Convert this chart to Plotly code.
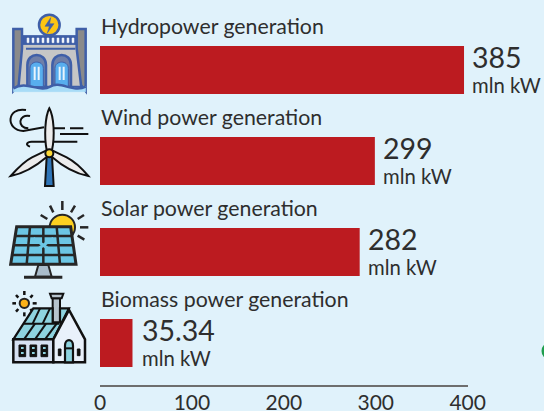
import re
import plotly.graph_objects as go

W, H = 544, 411

categories = ["Hydropower generation", "Wind power generation",
              "Solar power generation", "Biomass power generation"]
# Bar lengths as drawn in the picture (the first bar is drawn longer than its printed value)
bar_lengths = [396, 299, 282.5, 35.34]
value_labels = ["385", "299", "282", "35.34"]
unit_label = "mln kW"
tick_values = [0, 100, 200, 300, 400]

BG = "#e0f2fb"
RED = "#bc1b20"
INK = "#2e2e2e"
FONT = "Lato, 'Open Sans', sans-serif"

shapes = []


def conv(path, ox, oy, k):
    """Icon-local (zoomed crop) coordinates to paper fractions."""
    tokens = re.findall(r"[MLCQZ]|-?\d+\.?\d*", path)
    out, nums = [], []
    for t in tokens:
        if t in "MLCQZ":
            out.append(t)
        else:
            nums.append(float(t))
            if len(nums) == 2:
                out.append(f"{(nums[0] * k + ox) / W:.5f},{1 - (nums[1] * k + oy) / H:.5f}")
                nums = []
    return " ".join(out)


def icon(ox, oy):
    k = 1 / 3

    def p(path, fill=None, line="#111111", width=2.0):
        s = dict(type="path", path=conv(path, ox, oy, k), xref="paper", yref="paper", layer="above",
                 line=dict(color=line, width=width))
        if fill:
            s["fillcolor"] = fill
        shapes.append(s)

    def c(cx, cy, r, fill, line="#111111", width=2.0):
        shapes.append(dict(type="circle", xref="paper", yref="paper", layer="above",
                           x0=(cx - r) * k / W + ox / W, x1=(cx + r) * k / W + ox / W,
                           y0=1 - ((cy + r) * k + oy) / H, y1=1 - ((cy - r) * k + oy) / H,
                           fillcolor=fill, line=dict(color=line, width=width)))
    return p, c


# ---------- hydropower icon
p, c = icon(0, 5)
B = "#3f5fa8"
p("M 65 115 L 232 115 L 245 245 L 52 245 Z", "#c6c6c6", B, 2)
p("M 65 92 L 232 92 L 232 118 L 65 118 Z", "#3f5fa8", B, 1)
for x in [84, 99, 114, 129, 144, 159, 174, 189, 204, 219]:
    p(f"M {x-3} 99 L {x+3} 99 L {x+3} 113 L {x-3} 113 Z", "#f0f5fb", "#f0f5fb", 0.5)
p("M 78 131 L 226 131", None, B, 2)
p("M 40 72 L 66 72 L 66 130 L 56 240 L 40 258 Z", "#8a8a8a", B, 2.5)
p("M 230 72 L 257 72 L 257 258 L 243 240 L 230 130 Z", "#8a8a8a", B, 2.5)
for cx in [110, 185]:
    p(f"M {cx-28} 245 L {cx-28} 180 C {cx-28} 140 {cx+28} 140 {cx+28} 180 L {cx+28} 245 Z", "#6f7fa8", B, 2.5)
    p(f"M {cx-20} 245 L {cx-20} 190 C {cx-20} 165 {cx+20} 165 {cx+20} 190 L {cx+20} 245 Z", "#58aeee", B, 1)
    p(f"M {cx-6} 185 L {cx-6} 225 M {cx+6} 185 L {cx+6} 225", None, "#e8f4fc", 2)
p("M 40 250 C 80 225 120 265 150 245 C 180 225 220 265 257 245 L 257 260 L 40 260 Z", "#a8dcf7", "#a8dcf7", 0.5)
p("M 40 250 C 80 225 120 265 150 245 C 180 225 220 265 257 245", None, B, 2.5)
c(148, 60, 31, "#fdc513", B, 2.5)
p("M 152 38 L 135 64 L 148 64 L 142 84 L 162 56 L 149 56 Z", B, B, 0.5)

# ---------- wind icon
p, c = icon(0, 100)
p("M 78 30 C 20 20 15 90 70 93 L 132 82", None, "#111111", 2)
p("M 90 48 C 55 40 50 85 85 85", None, "#111111", 2)
p("M 160 85 L 195 85 M 210 85 L 250 85 M 180 102 L 265 102", None, "#111111", 2)
p("M 90 140 C 75 135 80 125 95 125 L 232 125", None, "#111111", 2)
p("M 140 170 L 156 170 L 161 258 L 135 258 Z", "#2f75b7", "#111111", 2)
p("M 148 25 C 135 50 132 110 140 150 L 156 150 C 165 110 162 50 148 25 Z", "#ececec", "#111111", 2)
p("M 158 152 L 200 172 C 225 185 250 210 265 228 C 235 222 195 205 155 170 Z", "#ececec", "#111111", 2)
p("M 138 152 L 96 172 C 70 185 48 210 32 228 C 62 222 100 205 141 170 Z", "#ececec", "#111111", 2)
c(148, 160, 12, "#fdd835", "#111111", 2)

# ---------- solar icon
p, c = icon(0, 195)
D = "#262626"
for seg in ["187 18 187 45", "150 32 160 52", "122 60 142 72", "225 32 213 52",
            "252 60 233 72", "240 97 265 97", "233 122 253 134"]:
    a = seg.split()
    p(f"M {a[0]} {a[1]} L {a[2]} {a[3]}", None, D, 2.5)
c(187, 97, 38, "#fdd020", D, 2)
p("M 115 210 L 145 210 L 155 245 L 105 245 Z", "#a9bccb", D, 2)
p("M 72 247 L 187 247", None, D, 3)
p("M 50 95 L 212 95 L 228 208 L 32 208 Z", "#6cc6e4", D, 3)
for a, b in [(90, 80), (130, 130), (170, 180)]:
    p(f"M {a} 95 L {b} 208", None, D, 2.5)
for y, x0, x1 in [(123, 46, 216), (151, 42, 220), (180, 37, 224)]:
    p(f"M {x0} {y} L {x1} {y}", None, D, 2.5)
p("M 100 130 L 160 172 M 160 130 L 100 172", None, "#6cc6e4", 3)

# ---------- biomass icon
p, c = icon(0, 285)
for seg in ["73 18 73 30", "73 82 73 94", "37 55 48 55", "98 55 110 55",
            "48 30 55 38", "98 30 91 38", "48 80 55 72", "98 80 91 72"]:
    a = seg.split()
    p(f"M {a[0]} {a[1]} L {a[2]} {a[3]}", None, "#111111", 2.5)
c(73, 55, 14, "#fbb117", "#222222", 2)
p("M 158 40 L 180 40 L 180 115 L 158 115 Z", "#b6c3cc", "#111111", 2)
p("M 150 26 L 190 26 L 185 40 L 155 40 Z", "#b6c3cc", "#111111", 2)
p("M 40 163 L 100 70 L 158 70 L 158 112 L 180 112 L 180 70 L 207 70 L 160 163 Z", "#8ed3df", "#111111", 2.2)
p("M 70 116 L 178 116", None, "#111111", 2)
for a, b, x, y in [(105, 116, 72, 163), (138, 116, 105, 163), (170, 116, 135, 163),
                   (120, 70, 98, 116), (150, 70, 128, 116)]:
    p(f"M {a} {y - 47 if y == 163 else 70} L {x} {y}", None, "#111111", 2)
p("M 40 163 L 160 163 L 160 232 L 40 232 Z", "#d6e1f2", "#111111", 2.5)
p("M 160 163 L 207 75 L 255 163 L 255 232 L 160 232 Z", "#e9f1fb", "#111111", 2.5)
for x in [57, 90, 123]:
    p(f"M {x} 180 L {x+20} 180 L {x+20} 215 L {x} 215 Z", "#111111", "#111111", 1)
    p(f"M {x+6} 189 L {x+14} 189 M {x+6} 204 L {x+14} 204", None, "#8ed3df", 2)
p("M 195 232 L 195 182 C 195 160 219 160 219 182 L 219 232 Z", "#8ed3df", "#111111", 2.2)
p("M 195 190 L 219 190", None, "#111111", 2)
p("M 175 192 L 183 192 L 183 212 L 175 212 Z", "#111111", "#111111", 1)
p("M 232 192 L 240 192 L 240 212 L 232 212 Z", "#111111", "#111111", 1)

# ---------- clipped green mark at the right edge
shapes.append(dict(type="circle", xref="paper", yref="paper", layer="above",
                   x0=541.5 / W, x1=556 / W, y0=1 - 359 / H, y1=1 - 343 / H,
                   fillcolor="#1f9e4e", line=dict(width=0)))

fig = go.Figure(go.Bar(
    x=bar_lengths, y=list(range(len(categories))), orientation="h",
    width=48 / 91, marker=dict(color=RED, line=dict(width=0)),
    hoverinfo="skip"))

annotations = []
for i, name in enumerate(categories):
    xs = 8 if i == 3 else 6
    annotations.append(dict(x=0, y=i, text=name, xref="x", yref="y", xanchor="left", yanchor="middle",
                            xshift=-1, yshift=44, showarrow=False,
                            font=dict(family=FONT, size=21.3, color=INK)))
    annotations.append(dict(x=bar_lengths[i], y=i, text=value_labels[i], xref="x", yref="y",
                            xanchor="left", yanchor="middle", xshift=xs, yshift=13, showarrow=False,
                            font=dict(family=FONT, size=28.5, color=INK)))
    annotations.append(dict(x=bar_lengths[i], y=i, text=unit_label, xref="x", yref="y",
                            xanchor="left", yanchor="middle", xshift=xs, yshift=-15, showarrow=False,
                            font=dict(family=FONT, size=20.3, color=INK)))

fig.update_layout(
    width=W, height=H, autosize=False,
    margin=dict(l=0, r=0, t=0, b=0, pad=0),
    paper_bgcolor=BG, plot_bgcolor=BG, showlegend=False,
    shapes=shapes, annotations=annotations,
    xaxis=dict(domain=[100 / W, 467.7 / W], range=[0, 400], tickvals=tick_values,
               showgrid=False, zeroline=False, showline=True, linecolor="#6e6e6e", linewidth=1.5,
               ticks="", ticklen=0, automargin=False, ticklabelstandoff=-2,
               tickfont=dict(family=FONT, size=21, color=INK)),
    yaxis=dict(domain=[1 - 385 / H, 1 - 24.5 / H], range=[(385 - 70) / 91, -0.5],
               showgrid=False, zeroline=False, showticklabels=False, ticks="", automargin=False),
)
fig.write_html("out.html", config=dict(displayModeBar=False),
               post_script="document.body.style.margin='0';document.body.style.background='#e0f2fb';"
                           "document.documentElement.style.overflow='hidden';")
